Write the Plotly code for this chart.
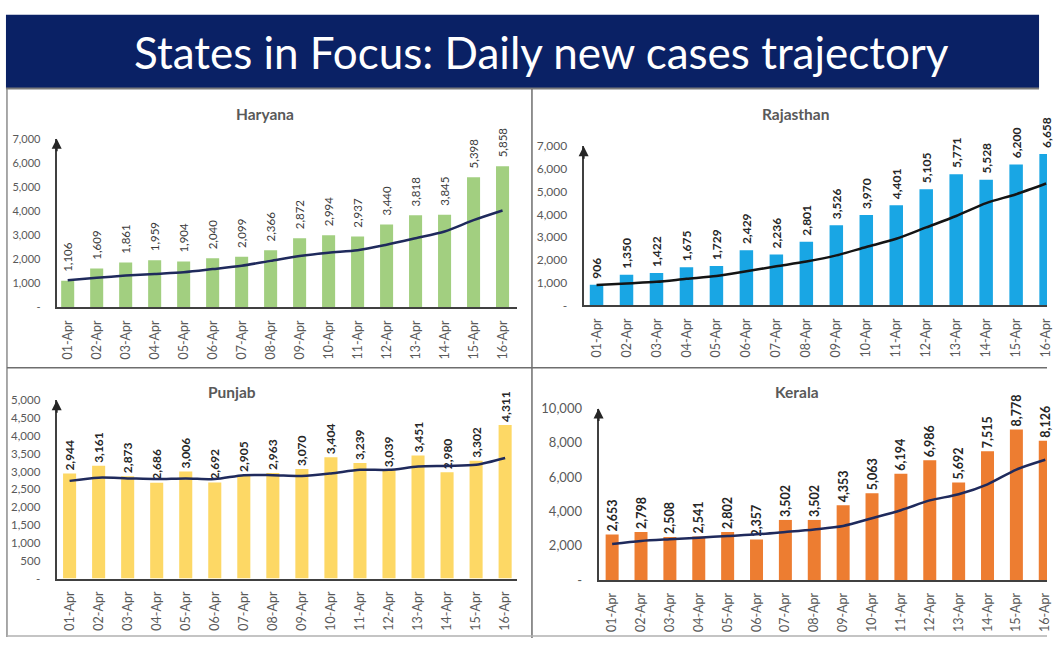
import plotly.graph_objects as go

# ---------------- data ----------------
dates = ["01-Apr", "02-Apr", "03-Apr", "04-Apr", "05-Apr", "06-Apr", "07-Apr", "08-Apr",
         "09-Apr", "10-Apr", "11-Apr", "12-Apr", "13-Apr", "14-Apr", "15-Apr", "16-Apr"]

haryana = [1106, 1609, 1861, 1959, 1904, 2040, 2099, 2366, 2872, 2994, 2937, 3440, 3818, 3845, 5398, 5858]
haryana_trend = [1130, 1230, 1320, 1390, 1460, 1590, 1730, 1930, 2130, 2270, 2370, 2600, 2870, 3150, 3620, 4020]

rajasthan = [906, 1350, 1422, 1675, 1729, 2429, 2236, 2801, 3526, 3970, 4401, 5105, 5771, 5528, 6200, 6658]
rajasthan_trend = [900, 970, 1040, 1170, 1290, 1500, 1720, 1930, 2200, 2570, 2930, 3430, 3930, 4500, 4890, 5360]

punjab = [2944, 3161, 2873, 2686, 3006, 2692, 2905, 2963, 3070, 3404, 3239, 3039, 3451, 2980, 3302, 4311]
punjab_trend = [2740, 2830, 2810, 2790, 2810, 2790, 2900, 2900, 2880, 2950, 3050, 3050, 3140, 3160, 3190, 3380]

kerala = [2653, 2798, 2508, 2541, 2802, 2357, 3502, 3502, 4353, 5063, 6194, 6986, 5692, 7515, 8778, 8126]
kerala_trend = [2100, 2280, 2380, 2470, 2570, 2660, 2800, 2950, 3150, 3600, 4070, 4640, 5000, 5580, 6440, 7010]

ticks_7k = [0, 1000, 2000, 3000, 4000, 5000, 6000, 7000]
ticks_7k_text = ["-", "1,000", "2,000", "3,000", "4,000", "5,000", "6,000", "7,000"]
ticks_5k = [0, 500, 1000, 1500, 2000, 2500, 3000, 3500, 4000, 4500, 5000]
ticks_5k_text = ["-", "500", "1,000", "1,500", "2,000", "2,500", "3,000", "3,500", "4,000", "4,500", "5,000"]
ticks_10k = [0, 2000, 4000, 6000, 8000, 10000]
ticks_10k_text = ["-", "2,000", "4,000", "6,000", "8,000", "10,000"]

title_text = "States in Focus: Daily new cases trajectory"
panel_titles = ["Haryana", "Rajasthan", "Punjab", "Kerala"]

# ---------------- geometry helpers ----------------
W, H = 1053, 646

def px(x):
    return max(0.0, min(1.0, x / W))

def py(y):
    return max(0.0, min(1.0, 1 - y / H))

FONT = "Lato"
GRAY = "#595959"
AXIS = "#404040"
NAVY_LINE = "#1f2a5c"
NB = "\u00a0"

fig = go.Figure()

panels = [
    dict(v=haryana, t=haryana_trend, c="#a2cf80", lc=NAVY_LINE, xa="x", ya="y",
         xd=(57, 520), yd=(134, 307), xr=[-0.38, 15.5], yr=[0, 7000],
         tv=ticks_7k, tt=ticks_7k_text, tf=11, lf=11.5, bold=False, pad=NB + NB),
    dict(v=rajasthan, t=rajasthan_trend, c="#19a6e4", lc="#141414", xa="x2", ya="y2",
         xd=(587, 1053), yd=(141.7, 305), xr=[-0.43, 15.03], yr=[0, 7000],
         tv=ticks_7k, tt=ticks_7k_text, tf=12, lf=12, bold=True, pad=NB),
    dict(v=punjab, t=punjab_trend, c="#fdd865", lc=NAVY_LINE, xa="x3", ya="y3",
         xd=(57, 520), yd=(402.3, 585), xr=[-0.445, 15.41], yr=[0, 5000],
         tv=ticks_5k, tt=ticks_5k_text, tf=11.5, lf=12, bold=True, pad=""),
    dict(v=kerala, t=kerala_trend, c="#ed7d31", lc=NAVY_LINE, xa="x4", ya="y4",
         xd=(602, 1053), yd=(410.7, 586.5), xr=[-0.47, 15.06], yr=[0, 10000],
         tv=ticks_10k, tt=ticks_10k_text, tf=13, lf=12.5, bold=True, pad=""),
]

for i, p in enumerate(panels):
    tmpl = (p["pad"] + "<b>%{y:,}</b>") if p["bold"] else (p["pad"] + "%{y:,}")
    fig.add_trace(go.Bar(
        x=dates, y=p["v"], xaxis=p["xa"], yaxis=p["ya"],
        marker=dict(color=p["c"], line=dict(width=0)),
        width=0.45,
        texttemplate=tmpl, textposition="outside", textangle=-90,
        constraintext="none", cliponaxis=False,
        textfont=dict(family=FONT, size=p["lf"], color="#262626" if p["bold"] else "#3a3a3a"),
        showlegend=False, hoverinfo="skip",
    ))
    fig.add_trace(go.Scatter(
        x=dates, y=p["t"], xaxis=p["xa"], yaxis=p["ya"], mode="lines",
        line=dict(color=p["lc"], width=2.5, shape="spline", smoothing=0.8),
        showlegend=False, hoverinfo="skip",
    ))
    sfx = "" if i == 0 else str(i + 1)
    fig.layout["xaxis" + sfx] = dict(
        domain=[px(p["xd"][0]), px(p["xd"][1])], range=p["xr"], anchor=p["ya"],
        type="category", showline=True, linecolor=AXIS, linewidth=2,
        showgrid=False, zeroline=False, ticks="", tickangle=-90,
        tickfont=dict(family=FONT, size=12.5, color=GRAY), ticklabelstandoff=6,
        fixedrange=True,
    )
    fig.layout["yaxis" + sfx] = dict(
        domain=[py(p["yd"][1]), py(p["yd"][0])], range=p["yr"], anchor=p["xa"],
        showline=True, linecolor=AXIS, linewidth=2, showgrid=False, zeroline=False,
        tickvals=p["tv"], ticktext=p["tt"], ticks="",
        tickfont=dict(family=FONT, size=p["tf"], color=GRAY), ticklabelstandoff=12,
        fixedrange=True,
    )
    fig.add_annotation(
        xref=p["xa"] + " domain", yref=p["ya"] + " domain", x=0, y=1,
        ax=0, ay=14, text="", showarrow=True, arrowhead=2, arrowsize=1,
        arrowwidth=2, arrowcolor="#262626",
    )

title_pos = [(267, 109), (800, 109), (233, 394), (802, 394)]
for name, (tx, ty) in zip(panel_titles, title_pos):
    fig.add_annotation(
        xref="paper", yref="paper", x=px(tx), y=py(ty), text="<b>" + name + "</b>",
        showarrow=False, xanchor="center", yanchor="middle",
        font=dict(family=FONT, size=15.5, color=GRAY),
    )

shapes = [
    dict(type="rect", xref="paper", yref="paper", x0=px(6), x1=px(1045), y0=py(82), y1=py(7),
         fillcolor="#0a2165", line=dict(width=0), layer="below"),
    dict(type="line", xref="paper", yref="paper", x0=px(6), x1=px(1045), y0=py(82.5), y1=py(82.5),
         line=dict(color="#7a7a7a", width=2)),
    dict(type="line", xref="paper", yref="paper", x0=px(7), x1=px(7), y0=py(83), y1=py(645),
         line=dict(color="#8c8c8c", width=1.5)),
    dict(type="line", xref="paper", yref="paper", x0=px(535), x1=px(535), y0=py(83), y1=py(646),
         line=dict(color="#6e6e6e", width=1.5)),
    dict(type="line", xref="paper", yref="paper", x0=px(7), x1=px(1053), y0=py(369), y1=py(369),
         line=dict(color="#6e6e6e", width=1.5)),
    dict(type="line", xref="paper", yref="paper", x0=px(7), x1=px(1053), y0=py(644), y1=py(644),
         line=dict(color="#b0b0b0", width=1.5)),
]
fig.update_layout(shapes=shapes)

fig.add_annotation(
    xref="paper", yref="paper", x=px(545), y=py(45), text=title_text, showarrow=False,
    xanchor="center", yanchor="middle", font=dict(family=FONT, size=44, color="#ffffff"),
)

fig.update_layout(
    width=W, height=H, margin=dict(l=0, r=0, t=0, b=0),
    paper_bgcolor="#ffffff", plot_bgcolor="rgba(0,0,0,0)",
)

# pin the figure to the top-left corner of the page (no body margin)
pin_js = (
    "document.body.style.margin='0px';"
    "var gd=document.getElementById('{plot_id}');"
    "gd.style.position='fixed';gd.style.left='0px';gd.style.top='0px';"
)

fig.write_html("out.html", config={"displayModeBar": False}, post_script=pin_js)
